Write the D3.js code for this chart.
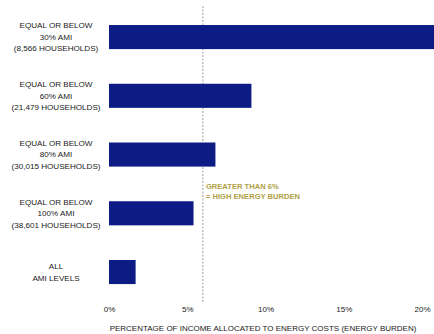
<!DOCTYPE html>
<html>
<head>
<meta charset="utf-8">
<script src="https://cdn.jsdelivr.net/npm/d3@7"></script>
<style>
html,body{margin:0;padding:0;background:#fff;}
svg{display:block;}
text{font-family:"Liberation Sans",Arial,sans-serif;}
</style>
</head>
<body>
<svg id="chart" width="434" height="334"></svg>
<script>
const categories = [
  ["EQUAL OR BELOW", "30% AMI", "(8,566 HOUSEHOLDS)"],
  ["EQUAL OR BELOW", "60% AMI", "(21,479 HOUSEHOLDS)"],
  ["EQUAL OR BELOW", "80% AMI", "(30,015 HOUSEHOLDS)"],
  ["EQUAL OR BELOW", "100% AMI", "(38,601 HOUSEHOLDS)"],
  ["ALL", "AMI LEVELS"]
];
const values = [21.5, 9.1, 6.8, 5.4, 1.7];
const tickValues = [0, 5, 10, 15, 20];
const threshold = 6;
const annotationLines = ["GREATER THAN 6%", "= HIGH ENERGY BURDEN"];
const axisTitle = "PERCENTAGE OF INCOME ALLOCATED TO ENERGY COSTS (ENERGY BURDEN)";

const svg = d3.select("#chart");
const x = d3.scaleLinear().domain([0, 20]).range([109, 422]);
const y = d3.scaleBand().domain(d3.range(categories.length)).range([7.4, 301.7]).paddingInner(0.59).paddingOuter(0.3);

const barColor = "#0c1c84";
const textColor = "#1a1a1a";

// threshold line
svg.append("line")
  .attr("x1", x(threshold)).attr("x2", x(threshold))
  .attr("y1", 6).attr("y2", 302)
  .attr("stroke", "#888").attr("stroke-width", 0.8)
  .attr("stroke-dasharray", "2,1.5");

// bars
svg.selectAll("rect.bar").data(values).join("rect")
  .attr("class", "bar")
  .attr("x", x(0))
  .attr("y", (d, i) => y(i))
  .attr("width", d => x(d) - x(0))
  .attr("height", y.bandwidth())
  .attr("fill", barColor);

// category labels
const lab = svg.selectAll("text.cat").data(categories).join("text")
  .attr("class", "cat")
  .attr("text-anchor", "middle")
  .attr("font-size", 8.1)
  .attr("fill", textColor)
  .attr("transform", (d, i) => `translate(56,${y(i) + y.bandwidth() / 2})`);
lab.each(function(d) {
  const n = d.length;
  d3.select(this).selectAll("tspan").data(d).join("tspan")
    .attr("x", 0)
    .attr("y", (t, j) => (j - (n - 1) / 2) * 11.5)
    .attr("dy", "0.35em")
    .text(t => t);
});

// x axis (labels only)
const axis = svg.append("g")
  .attr("transform", "translate(0,309)")
  .call(d3.axisBottom(x).tickValues(tickValues).tickFormat(d => d + "%").tickSize(0).tickPadding(0));
axis.select(".domain").remove();
axis.selectAll("text")
  .attr("font-size", 8)
  .attr("fill", textColor)
  .attr("dy", "0.35em")
  .attr("font-family", "Liberation Sans, Arial, sans-serif");

// axis title
svg.append("text")
  .attr("x", 263).attr("y", 328)
  .attr("dy", "0.35em")
  .attr("text-anchor", "middle")
  .attr("font-size", 8)
  .attr("fill", textColor)
  .text(axisTitle);

// annotation
svg.append("text")
  .attr("font-size", 7.6)
  .attr("font-weight", "bold")
  .attr("fill", "#b0a147")
  .selectAll("tspan").data(annotationLines).join("tspan")
  .attr("x", x(threshold) + 3)
  .attr("y", (d, i) => 186 + i * 10)
  .attr("dy", "0.35em")
  .text(d => d);
</script>
</body>
</html>
